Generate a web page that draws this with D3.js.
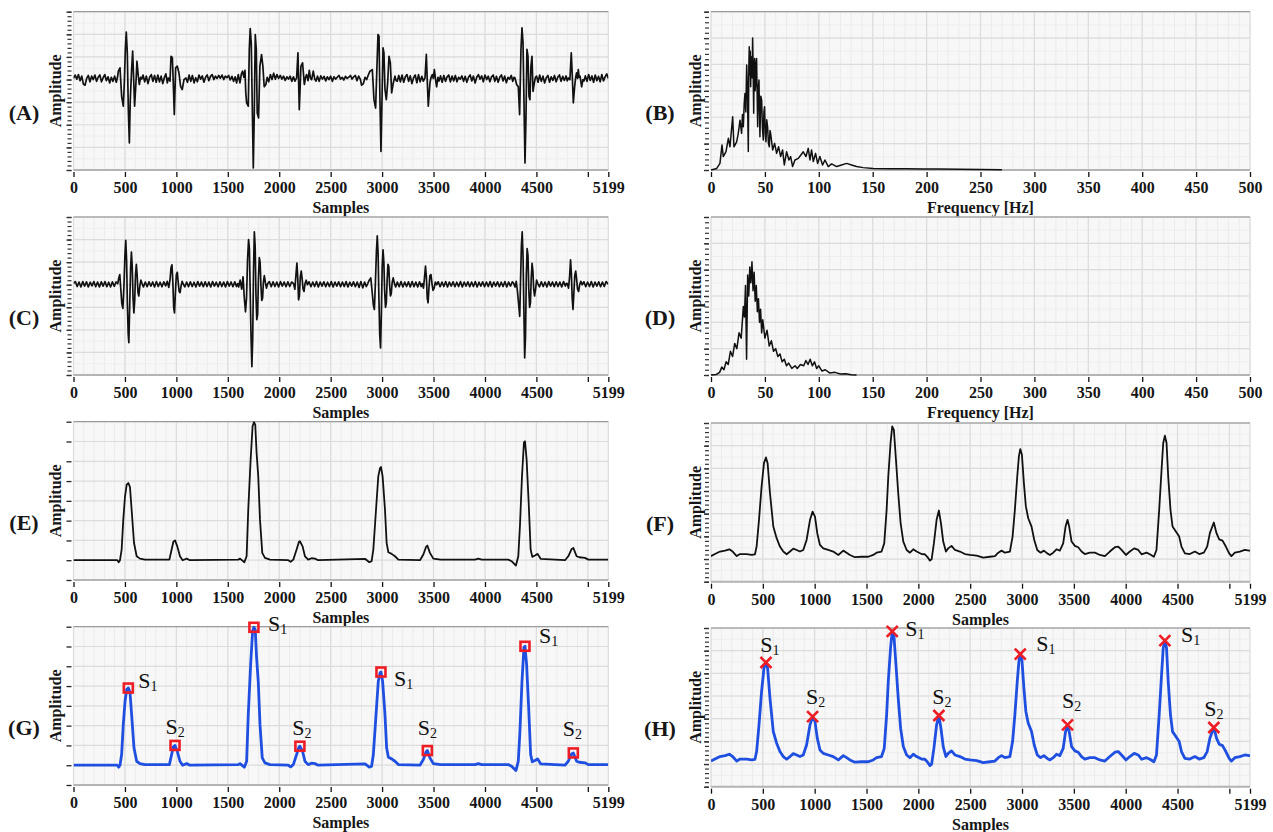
<!DOCTYPE html>
<html>
<head>
<meta charset="utf-8">
<script src="https://cdn.jsdelivr.net/npm/d3@7"></script>
<style>
  body { margin: 0; background: #ffffff; }
  svg { display: block; }
</style>
</head>
<body>
<svg id="fig" width="1273" height="832"></svg>
<script>
// ------------------------------------------------------------------
// Data
// ------------------------------------------------------------------

// Axis ticks
const sampleTicks = [0, 500, 1000, 1500, 2000, 2500, 3000, 3500, 4000, 4500, 5000, 5199];
const sampleTickLabels = ["0", "500", "1000", "1500", "2000", "2500", "3000", "3500", "4000", "4500", "", "5199"];
const freqTicks = [0, 50, 100, 150, 200, 250, 300, 350, 400, 450, 500];
const freqTickLabels = ["0", "50", "100", "150", "200", "250", "300", "350", "400", "450", "500"];

// (A) raw heart-sound recording: [sample, amplitude]
const pcgRaw = [
 [0,0.05],[16,0.2],[32,0.02],[48,0.22],[64,-0.05],[80,0.15],[96,-0.2],[112,-0.25],[128,0.05],[144,0.18],[160,-0.1],[176,0.15],[192,0.0],[208,0.2],[224,-0.08],[240,0.1],[256,0.2],[272,-0.1],[288,0.08],[304,0.22],[320,-0.05],[336,0.12],[352,-0.15],[368,0.1],[384,-0.08],[400,0.15],[416,-0.12],[428,0.1],
 [436,0.37],[452,0.52],[468,-0.74],[484,-1.18],[494,-0.15],[504,1.33],[513,2.1],[523,1.18],[533,-1.33],[543,-2.8],[552,-0.89],[565,0.44],[575,1.26],[585,0.0],[594,-1.18],[607,-0.15],[617,0.81],[630,0.15],[640,-0.22],[652,0.1],[664,0.02],
 [676,0.2],[692,-0.1],[708,0.15],[724,-0.18],[740,0.1],[756,0.22],[772,-0.08],[788,0.18],[804,-0.12],[820,0.2],[836,-0.1],[852,0.15],[868,-0.18],[884,0.1],[898,0.25],[912,-0.15],
 [922,0.07],[938,-0.07],[948,1.03],[955,1.0],[961,0.96],[970,-0.15],[980,-1.55],[993,0.52],[1009,0.59],[1025,0.3],[1041,-0.3],[1057,-0.44],[1074,0.0],[1093,0.07],
 [1108,-0.12],[1124,0.2],[1140,-0.08],[1156,0.18],[1172,-0.15],[1188,0.08],[1204,-0.1],[1220,0.2],[1236,0.02],[1252,0.16],[1268,-0.12],[1284,0.1],[1300,0.2],[1316,-0.05],[1332,0.14],[1348,0.22],[1364,0.0],[1380,0.15],[1396,0.05],[1412,0.18],[1428,0.06],[1444,0.2],[1460,0.0],[1476,0.15],[1492,0.08],[1508,0.18],[1524,-0.02],[1540,0.14],[1556,-0.08],[1572,0.12],[1586,-0.15],
 [1602,0.22],[1618,-0.15],[1632,0.25],[1644,0.37],[1656,0.1],[1667,0.41],[1675,-0.6],[1683,-1.03],[1699,-1.18],[1709,1.33],[1718,2.25],[1728,1.62],[1738,-1.18],[1748,-3.91],[1757,-1.62],[1767,1.99],[1777,1.33],[1786,-1.48],[1799,-1.7],[1812,0.59],[1828,1.1],[1841,0.59],[1854,-0.32],[1870,-0.22],[1883,0.1],
 [1898,-0.1],[1914,0.22],[1930,0.0],[1946,0.28],[1962,0.02],[1978,0.22],[1994,0.05],[2010,0.18],[2026,0.02],[2042,0.15],[2058,-0.04],[2074,0.12],[2090,0.02],[2106,0.15],[2122,-0.08],[2138,0.12],
 [2153,-0.07],[2169,0.07],[2182,1.18],[2195,-1.33],[2211,0.59],[2227,0.74],[2244,-0.22],[2256,0.1],[2266,0.22],[2280,-0.05],[2292,0.41],[2304,0.05],[2315,0.0],[2331,0.37],[2345,0.02],[2357,-0.07],
 [2372,0.15],[2388,-0.08],[2404,0.16],[2420,0.02],[2436,0.14],[2452,-0.06],[2468,0.12],[2484,0.0],[2500,0.15],[2516,-0.08],[2532,0.12],[2548,0.02],[2564,0.1],[2580,0.18],[2596,0.02],[2612,0.1],[2628,-0.02],[2644,0.14],[2660,0.05],[2676,0.1],[2692,0.18],[2708,0.02],[2724,0.12],[2740,0.18],[2756,-0.05],[2772,0.15],[2788,0.02],[2801,-0.25],[2818,-0.18],[2834,0.1],[2850,0.0],
 [2866,0.2],[2882,0.37],[2905,0.44],[2921,-0.89],[2937,-1.26],[2950,0.59],[2960,1.99],[2970,1.92],[2979,-0.89],[2989,-3.18],[2999,-0.89],[3009,1.4],[3018,1.18],[3028,-0.44],[3041,-0.89],[3054,-0.15],[3067,1.03],[3080,0.74],[3093,-0.59],[3109,-0.15],[3125,0.15],[3137,-0.05],[3148,-0.07],
 [3162,0.18],[3178,-0.1],[3194,0.2],[3210,-0.12],[3226,0.12],[3242,0.22],[3258,-0.08],[3274,0.16],[3290,-0.18],[3306,0.08],[3322,0.2],[3338,-0.14],[3354,0.22],[3370,-0.1],[3386,0.14],
 [3401,-0.07],[3417,0.07],[3430,1.11],[3440,-0.15],[3449,-1.18],[3465,-0.15],[3476,0.1],[3488,0.22],[3498,0.05],[3508,0.44],[3520,0.0],[3530,-0.32],[3543,0.1],[3553,-0.07],
 [3568,0.16],[3584,-0.12],[3600,0.18],[3616,-0.08],[3632,0.12],[3648,0.2],[3664,-0.1],[3680,0.15],[3696,-0.06],[3712,0.18],[3728,-0.1],[3744,0.1],[3760,0.02],[3776,0.16],[3792,-0.08],[3808,0.14],[3824,-0.12],[3840,0.1],[3856,0.2],[3872,-0.06],[3888,0.15],[3904,-0.15],[3920,0.1],[3936,0.22],[3952,0.02],[3968,0.16],[3984,-0.1],[4000,0.2],[4016,0.0],[4032,0.15],[4048,-0.1],[4064,0.12],[4080,0.2],[4096,-0.08],[4112,0.14],[4128,-0.12],[4144,0.1],[4160,0.2],[4176,-0.06],[4192,0.15],[4208,-0.14],[4224,0.1],[4240,0.02],[4256,0.18],[4270,-0.08],[4282,0.1],
 [4292,0.07],[4308,-0.22],[4324,-0.32],[4337,-1.55],[4350,1.33],[4360,2.29],[4370,1.62],[4379,-0.89],[4389,-3.69],[4399,-1.62],[4408,1.33],[4418,1.03],[4428,-0.74],[4437,-0.89],[4447,0.59],[4457,1.03],[4467,-0.52],[4480,-0.15],[4491,0.1],[4502,0.15],
 [4516,-0.12],[4532,0.2],[4548,-0.08],[4564,0.15],[4580,-0.15],[4596,0.08],[4612,0.18],[4628,-0.12],[4644,0.12],[4660,-0.04],[4676,0.18],[4692,-0.1],[4708,0.1],[4724,0.2],[4740,-0.08],[4756,0.14],[4772,-0.04],[4788,0.16],[4800,-0.06],
 [4810,0.07],[4826,0.0],[4839,1.18],[4849,0.15],[4859,-1.03],[4872,-0.3],[4882,0.1],[4891,0.3],[4900,0.05],[4907,0.44],[4916,0.1],[4924,0.15],[4940,-0.32],[4952,0.0],[4962,-0.07],
 [4976,0.16],[4992,-0.08],[5008,0.22],[5024,-0.04],[5040,0.16],[5056,-0.12],[5072,0.2],[5088,-0.05],[5104,0.14],[5120,-0.1],[5136,0.22],[5152,-0.06],[5168,0.12],[5184,0.25],[5199,0.05]
];

// (C) band-pass filtered recording: [sample, amplitude]
const pcgFiltered = [
 [0,0.06],[18,0.14],[36,-0.08],[54,0.12],[72,-0.1],[90,0.14],[108,-0.06],[126,0.13],[144,-0.1],[162,0.11],[180,-0.05],[198,0.14],[216,-0.09],[234,0.12],[252,-0.1],[270,0.13],[288,-0.06],[306,0.14],[324,-0.09],[342,0.11],[360,-0.1],[378,0.13],[396,-0.07],[414,0.12],[430,0.05],
 [440,0.3],[450,0.45],[460,-0.2],[470,-0.85],[480,-1.05],[490,-0.1],[500,1.3],[508,1.97],[516,1.1],[524,-0.9],[532,-2.2],[538,-2.57],[546,-1.0],[555,0.7],[563,1.45],[571,0.8],[579,-0.6],[587,-1.25],[595,-0.7],[603,0.45],[611,0.9],[619,0.4],[627,-0.35],[635,-0.5],[645,-0.05],[655,0.2],[667,0.05],
 [680,-0.1],[698,0.12],[716,-0.09],[734,0.13],[752,-0.06],[770,0.12],[788,-0.1],[806,0.14],[824,-0.08],[842,0.11],[860,-0.09],[878,0.13],[896,-0.05],[912,0.15],[926,-0.12],
 [938,0.2],[948,0.75],[957,0.88],[966,0.1],[974,-1.0],[982,-1.25],[991,-0.3],[1000,0.45],[1009,0.55],[1018,0.1],[1027,-0.3],[1036,-0.35],[1046,-0.05],[1056,0.15],[1068,0.02],
 [1082,-0.1],[1100,0.12],[1118,-0.09],[1136,0.13],[1154,-0.08],[1172,0.11],[1190,-0.1],[1208,0.14],[1226,-0.06],[1244,0.12],[1262,-0.09],[1280,0.13],[1298,-0.08],[1316,0.12],[1334,-0.1],[1352,0.14],[1370,-0.06],[1388,0.11],[1406,-0.09],[1424,0.13],[1442,-0.08],[1460,0.12],[1478,-0.1],[1496,0.14],[1514,-0.06],[1532,0.12],[1550,-0.09],[1568,0.13],[1584,-0.08],
 [1596,0.05],[1605,-0.1],[1620,0.2],[1635,-0.2],[1648,0.35],[1660,-0.55],[1672,-1.2],[1682,-0.6],[1692,1.1],[1702,2.0],[1710,1.6],[1718,-0.4],[1726,-2.3],[1734,-3.63],[1742,-2.4],[1750,0.6],[1758,2.34],[1766,1.7],[1774,-0.5],[1782,-1.55],[1790,-1.3],[1798,0.3],[1806,1.2],[1814,1.0],[1822,0.0],[1830,-0.7],[1838,-0.6],[1846,0.1],[1855,0.4],[1865,0.1],[1876,-0.15],[1888,0.05],
 [1904,0.14],[1922,-0.09],[1940,0.13],[1958,-0.08],[1976,0.12],[1994,-0.1],[2012,0.14],[2030,-0.06],[2048,0.12],[2066,-0.09],[2084,0.13],[2102,-0.08],[2120,0.12],
 [2140,0.05],[2152,-0.2],[2162,0.4],[2172,0.96],[2180,0.3],[2188,-0.67],[2196,-0.5],[2205,0.35],[2214,0.6],[2223,0.25],[2232,-0.2],[2241,-0.3],[2251,0.05],[2262,0.2],[2274,0.0],
 [2290,0.13],[2308,-0.09],[2326,0.12],[2344,-0.08],[2362,0.14],[2380,-0.1],[2398,0.12],[2416,-0.06],[2434,0.13],[2452,-0.09],[2470,0.11],[2488,-0.08],[2506,0.14],[2524,-0.1],[2542,0.12],[2560,-0.06],[2578,0.13],[2596,-0.09],[2614,0.12],[2632,-0.08],[2650,0.14],[2668,-0.1],[2686,0.11],[2704,-0.06],[2722,0.13],[2740,-0.09],[2758,0.12],[2776,-0.12],[2794,0.14],[2812,-0.14],[2830,0.12],[2846,-0.08],
 [2860,0.05],[2875,0.2],[2890,0.3],[2903,-0.3],[2915,-0.9],[2925,-1.1],[2935,0.1],[2945,1.5],[2953,2.16],[2961,1.4],[2969,-0.6],[2977,-2.2],[2985,-2.8],[2993,-1.2],[3001,0.8],[3009,1.55],[3017,1.0],[3025,-0.3],[3033,-1.0],[3041,-0.8],[3049,0.2],[3057,0.9],[3065,0.8],[3073,0.0],[3081,-0.5],[3089,-0.4],[3098,0.1],[3108,0.3],[3120,0.05],[3132,-0.1],
 [3148,0.12],[3166,-0.09],[3184,0.14],[3202,-0.1],[3220,0.12],[3238,-0.08],[3256,0.13],[3274,-0.1],[3292,0.14],[3310,-0.09],[3328,0.12],[3346,-0.1],[3364,0.13],[3380,-0.08],
 [3390,0.05],[3402,-0.15],[3412,0.3],[3422,0.83],[3431,0.3],[3439,-0.6],[3447,-0.8],[3456,-0.1],[3465,0.4],[3475,0.45],[3485,0.05],[3495,-0.25],[3506,-0.15],[3518,0.12],[3530,0.0],
 [3546,0.13],[3564,-0.09],[3582,0.12],[3600,-0.08],[3618,0.14],[3636,-0.1],[3654,0.12],[3672,-0.06],[3690,0.13],[3708,-0.09],[3726,0.11],[3744,-0.08],[3762,0.14],[3780,-0.1],[3798,0.12],[3816,-0.06],[3834,0.13],[3852,-0.09],[3870,0.12],[3888,-0.08],[3906,0.14],[3924,-0.1],[3942,0.11],[3960,-0.06],[3978,0.13],[3996,-0.09],[4014,0.12],[4032,-0.08],[4050,0.14],[4068,-0.1],[4086,0.12],[4104,-0.06],[4122,0.13],[4140,-0.09],[4158,0.11],[4176,-0.08],[4194,0.14],[4212,-0.1],[4230,0.12],[4248,-0.06],[4266,0.13],
 [4280,0.05],[4292,-0.1],[4304,0.15],[4316,-0.3],[4328,-0.9],[4338,-1.4],[4346,0.2],[4354,1.7],[4362,2.34],[4370,1.3],[4378,-1.0],[4386,-3.24],[4394,-2.3],[4402,0.4],[4410,1.6],[4418,1.3],[4426,-0.2],[4434,-1.0],[4442,-0.8],[4450,0.3],[4458,0.95],[4466,0.6],[4474,-0.2],[4482,-0.5],[4492,-0.2],[4502,0.2],[4514,0.05],
 [4530,-0.09],[4548,0.13],[4566,-0.08],[4584,0.12],[4602,-0.1],[4620,0.14],[4638,-0.06],[4656,0.12],[4674,-0.09],[4692,0.13],[4710,-0.08],[4728,0.12],[4746,-0.1],[4764,0.14],[4782,-0.06],[4792,0.06],
 [4800,0.05],[4812,-0.15],[4822,0.3],[4832,1.1],[4840,0.5],[4848,-0.6],[4856,-1.1],[4864,-0.4],[4873,0.4],[4882,0.6],[4891,0.25],[4900,-0.2],[4910,-0.3],[4921,0.0],[4932,0.15],[4945,0.0],
 [4962,0.13],[4980,-0.09],[4998,0.12],[5016,-0.08],[5034,0.14],[5052,-0.1],[5070,0.12],[5088,-0.06],[5106,0.13],[5124,-0.09],[5142,0.12],[5160,-0.08],[5178,0.14],[5199,0.02]
];

// (B) spectrum of the raw recording: [frequency Hz, magnitude]
const spectrumRaw = [
 [0,0],[5.3,0.06],[8.3,0.25],[10.2,0.95],[11.4,0.51],[13.9,0.7],[16.1,1.2],[17.6,0.88],[20.1,2.02],[21.3,0.88],[23.8,1.07],[25.3,1.39],[26.9,1.89],[28.4,1.39],[29.2,2.1],[30,1.64],[30.8,2.5],[31.5,2.9],[32.3,2.2],[33.1,3.98],[33.8,3.1],[34.6,0.7],[35.1,3.9],[35.5,4.67],[36.0,3.6],[36.4,4.5],[36.8,3.16],[37.2,4.1],[37.7,4.29],[38.1,3.5],[38.6,5.0],[39.1,3.9],[39.6,2.15],[40.0,3.8],[40.5,4.23],[40.9,3.0],[41.4,3.28],[41.8,4.0],[42.3,4.23],[42.8,2.9],[43.3,1.64],[43.9,3.1],[44.5,3.41],[45.0,2.2],[45.4,1.26],[46.2,2.8],[47,2.65],[47.7,1.6],[48.5,1.14],[49.1,2.2],[49.7,2.4],[50.4,1.3],[51,1.07],[51.7,1.9],[52.5,1.64],[53.3,1.0],[54.1,0.88],[54.7,1.5],[55.3,1.39],[57.2,0.76],[59,1.01],[60.9,0.63],[62.7,0.88],[64.6,0.51],[66.4,0.76],[68,0.19],[70.1,0.69],[72.3,0.38],[73.9,0.51],[75.7,0.13],[77.9,0.38],[81,0.44],[83.4,0.57],[85.6,0.69],[88.1,0.51],[90.2,0.82],[91.8,0.38],[93.3,0.76],[94.9,0.32],[97,0.63],[98.9,0.25],[101,0.51],[103.5,0.19],[105.7,0.38],[108.8,0.13],[111.9,0.23],[116.5,0.13],[121.1,0.19],[125.8,0.25],[130.4,0.19],[135,0.13],[141.2,0.09],[150.5,0.06],[165.9,0.05],[181.4,0.05],[196.8,0.04],[212.3,0.04],[230,0.03],[250,0.02],[270,0.01]
];

// (D) spectrum of the filtered recording: [frequency Hz, magnitude]
const spectrumFiltered = [
 [0,0],[5,0.02],[8,0.1],[10,0.3],[12,0.2],[14,0.5],[16,0.4],[18,0.9],[20,0.7],[22,1.2],[24,1.0],[26,1.6],[28,1.4],[30,2.6],[31,2.2],[32,3.4],[33,0.6],[34,3.8],[35,3.0],[36,4.1],[37,3.5],[38,4.3],[39,3.2],[40,3.9],[41,2.8],[42,3.4],[43,2.4],[44,2.9],[45,2.0],[46,2.5],[47,1.6],[48,2.1],[50,1.4],[52,1.7],[54,1.1],[56,1.3],[58,0.9],[60,1.0],[62,0.7],[64,0.8],[66,0.5],[68,0.6],[70,0.35],[72,0.45],[75,0.25],[78,0.35],[80,0.25],[83,0.4],[86,0.35],[88,0.55],[90,0.4],[92,0.6],[94,0.35],[96,0.5],[98,0.25],[100,0.35],[103,0.15],[106,0.2],[110,0.08],[115,0.1],[120,0.04],[125,0.05],[130,0.01],[135,0]
];

// (E)/(G) energy envelope: [sample, amplitude]
const envelopeEnergy = [
 [0,0],[426,0],[439,-0.1],[452,0],[468,0.54],[484,2.05],[501,3.23],[517,3.82],[533,3.9],[549,3.7],[565,2.56],[588,0.88],[614,0.2],[646,0.08],[695,0.03],
 [932,0.03],[954,0.54],[971,0.93],[987,1.0],[1009,0.7],[1035,0.2],[1061,0],[1100,0.08],[1132,0],
 [1602,0.03],[1619,0.08],[1661,-0.1],[1683,0.2],[1699,2.56],[1722,5.08],[1741,6.77],[1754,6.97],[1767,6.85],[1780,5.42],[1796,4.24],[1813,2.05],[1835,0.37],[1861,0.12],[1910,0.03],
 [2088,0],[2111,-0.08],[2137,0.03],[2169,0.54],[2192,0.93],[2201,0.96],[2227,0.7],[2250,0.2],[2282,0.03],[2314,0.1],[2347,0.08],[2379,0],
 [2834,0.07],[2876,-0.1],[2898,-0.05],[2915,0.54],[2941,2.56],[2963,4.24],[2980,4.66],[2989,4.71],[3005,4.24],[3028,2.56],[3044,0.88],[3061,0.4],[3093,0.32],[3125,0.2],[3158,0.03],
 [3368,0],[3401,0.29],[3427,0.67],[3440,0.74],[3465,0.37],[3498,0.08],[3569,0.03],
 [3903,0.03],[3935,0.08],[3968,0.03],
 [4227,0.03],[4259,-0.05],[4301,-0.27],[4324,0.2],[4340,1.72],[4360,4.24],[4379,5.96],[4389,6.01],[4405,5.08],[4425,2.9],[4444,0.54],[4460,0.17],[4486,0.24],[4512,0.32],[4541,0.07],
 [4778,0],[4810,0.2],[4843,0.57],[4859,0.62],[4891,0.2],[4917,0.15],[4972,0.12],[5005,0.03],[5199,0.03]
];

// (F)/(H) smoothed envelope: [sample, amplitude]
const envelopeSmooth = [
 [0,1.13],[38,1.22],[87,1.33],[135,1.37],[177,1.43],[209,1.33],[248,1.13],[280,1.22],[344,1.22],[392,1.18],[424,1.21],[440,1.55],[463,2.73],[488,4.2],[511,5.23],[530,5.48],[546,5.23],[569,3.9],[601,2.43],[633,1.92],[665,1.55],[697,1.33],[730,1.21],[762,1.33],[794,1.46],[826,1.4],[858,1.33],[890,1.4],[922,1.84],[955,2.73],[980,3.09],[1003,2.87],[1025,2.14],[1051,1.62],[1083,1.47],[1131,1.4],[1179,1.33],[1228,1.18],[1276,1.37],[1308,1.28],[1340,1.18],[1388,1.08],[1453,1.1],[1517,1.1],[1565,1.18],[1597,1.28],[1645,1.33],[1671,1.69],[1694,3.17],[1710,4.64],[1732,6.12],[1748,6.85],[1764,6.7],[1784,5.38],[1806,3.9],[1829,2.58],[1855,1.77],[1887,1.4],[1919,1.28],[1951,1.43],[1983,1.33],[2031,1.22],[2063,1.21],[2086,1.1],[2112,0.93],[2128,0.99],[2150,1.69],[2176,2.73],[2198,3.14],[2218,2.58],[2240,1.77],[2266,1.33],[2288,1.47],[2320,1.58],[2353,1.4],
 [2401,1.33],[2449,1.22],[2497,1.18],[2562,1.15],[2626,1.06],[2690,1.1],[2739,1.13],[2771,1.28],[2803,1.37],[2835,1.28],[2883,1.33],[2909,1.99],[2931,3.17],[2954,4.64],[2970,5.53],[2983,5.85],[2999,5.6],[3018,4.35],[3037,3.32],[3060,2.8],[3092,2.43],[3118,1.84],[3147,1.4],[3179,1.28],[3211,1.37],[3243,1.25],[3269,1.18],[3301,1.28],[3333,1.43],[3365,1.37],[3397,1.69],[3420,2.43],[3439,2.73],[3455,2.43],[3478,1.77],[3510,1.58],[3542,1.52],[3574,1.33],[3606,1.22],[3655,1.28],[3703,1.28],[3751,1.18],[3799,1.13],[3847,1.33],[3896,1.52],[3928,1.55],[3960,1.4],[4002,1.18],[4040,1.33],[4082,1.47],[4121,1.4],[4153,1.21],[4201,1.28],[4233,1.21],[4272,1.1],[4297,1.4],[4323,3.17],[4346,4.94],[4362,6.12],[4378,6.44],[4394,6.12],[4410,4.64],[4432,3.17],[4452,2.43],[4484,2.21],[4516,1.99],[4538,1.55],[4571,1.25],[4619,1.22],[4667,1.33],[4709,1.22],[4754,1.28],[4786,1.55],[4812,2.14],[4850,2.61],[4876,2.14],[4902,1.87],[4934,1.81],[4966,1.55],[4998,1.25],[5020,1.13],[5053,1.28],[5101,1.33],[5149,1.4],[5191,1.37],[5199,1.37]
];

// Detected heart sounds on the energy envelope (G)
const peaksEnergySamples = [533, 987, 1754, 2201, 2989, 3440, 4389, 4859];
const peaksEnergyValues  = [3.9, 1.0, 6.97, 0.96, 4.71, 0.74, 6.01, 0.62];
const peaksEnergyKinds   = ["1", "2", "1", "2", "1", "2", "1", "2"];

// Detected heart sounds on the smoothed envelope (H)
const peaksSmoothSamples = [530, 980, 1748, 2198, 2983, 3439, 4378, 4850];
const peaksSmoothValues  = [5.48, 3.09, 6.85, 3.14, 5.85, 2.73, 6.44, 2.61];
const peaksSmoothKinds   = ["1", "2", "1", "2", "1", "2", "1", "2"];

// ------------------------------------------------------------------
// Layout
// ------------------------------------------------------------------
const SERIF = '"Liberation Serif", "Times New Roman", Times, serif';
const TEXT = "#161616";
const BLUE = "#1f4fe0";
const RED = "#ee1c25";

const LEFT = { x0: 73.5, x1: 608.3, letterX: 24, titleX: 55.5 };
const RIGHT = { x0: 711, x1: 1250, letterX: 660, titleX: 695 };

// placement of each S-label relative to its marker: [dx, dy, anchor]
const gLabelPlacement = [[10, 0, "start"], [0, -11, "middle"], [14, 4, "start"], [2, -11, "middle"],
                         [13, 14, "start"], [0, -16, "middle"], [14, -3, "start"], [-1, -17, "middle"]];
const hLabelPlacement = [[4, -10, "middle"], [3, -13, "middle"], [13, 5, "start"], [3, -12, "middle"],
                         [16, -3, "start"], [4, -17, "middle"], [16, 1, "start"], [0, -12, "middle"]];

const svg = d3.select("#fig");
svg.append("rect").attr("width", 1273).attr("height", 832).attr("fill", "#ffffff");

let clipCounter = 0;

function drawPanel(p) {
  const g = svg.append("g");
  const col = p.col;
  const x = d3.scaleLinear().domain(p.xDomain).range([col.x0, col.x1]);
  const y = d3.scaleLinear().domain(p.yDomain).range([p.bottom, p.top]);
  const w = col.x1 - col.x0;
  const h = p.bottom - p.top;

  // plot background
  g.append("rect").attr("x", col.x0).attr("y", p.top).attr("width", w).attr("height", h)
    .attr("fill", "#f7f7f7");

  // minor grid
  const xMinor = d3.range(p.xDomain[0], p.xDomain[1] + 1e-6, p.xMinorStep);
  g.append("g").selectAll("line").data(xMinor).join("line")
    .attr("x1", d => x(d)).attr("x2", d => x(d)).attr("y1", p.top).attr("y2", p.bottom)
    .attr("stroke", "#ebebeb").attr("stroke-width", 1);
  if (p.yMinorStep) {
    const yMinor = d3.range(p.yDomain[0], p.yDomain[1] + 1e-6, p.yMinorStep);
    g.append("g").selectAll("line").data(yMinor).join("line")
      .attr("x1", col.x0).attr("x2", col.x1).attr("y1", d => y(d)).attr("y2", d => y(d))
      .attr("stroke", "#eeeeee").attr("stroke-width", 1);
  }

  // major grid
  const yMajor = d3.range(p.yDomain[0], p.yDomain[1] + 1e-6, p.yMajorStep);
  g.append("g").selectAll("line").data(p.xTicks).join("line")
    .attr("x1", d => x(d)).attr("x2", d => x(d)).attr("y1", p.top).attr("y2", p.bottom)
    .attr("stroke", "#dcdcdc").attr("stroke-width", 1.2);
  g.append("g").selectAll("line").data(yMajor).join("line")
    .attr("x1", col.x0).attr("x2", col.x1).attr("y1", d => y(d)).attr("y2", d => y(d))
    .attr("stroke", "#dcdcdc").attr("stroke-width", 1.2);

  // frame: darker top edge, thick grey bottom edge
  g.append("line").attr("x1", col.x0).attr("x2", col.x1).attr("y1", p.top).attr("y2", p.top)
    .attr("stroke", "#8c8c8c").attr("stroke-width", 1);
  g.append("line").attr("x1", col.x0).attr("x2", col.x1).attr("y1", p.bottom).attr("y2", p.bottom)
    .attr("stroke", "#b4b4b4").attr("stroke-width", 2);

  // x axis
  const xAxis = d3.axisBottom(x).tickValues(p.xTicks)
    .tickFormat((d, i) => p.xTickLabels[i]).tickSize(5).tickPadding(5);
  const gx = g.append("g").attr("transform", `translate(0,${p.bottom + 2})`).call(xAxis);
  gx.select(".domain").remove();
  gx.selectAll(".tick line").attr("stroke", "#111").attr("stroke-width", 1.3);
  gx.selectAll(".tick text").attr("font-family", SERIF).attr("font-weight", "bold")
    .attr("font-size", 16).attr("fill", TEXT);

  // y axis: major and minor ticks, no labels
  const yAxis = d3.axisLeft(y).tickValues(yMajor).tickFormat("").tickSize(5);
  const gy = g.append("g").attr("transform", `translate(${col.x0 - 2},0)`).call(yAxis);
  gy.select(".domain").remove();
  gy.selectAll(".tick line").attr("stroke", "#222").attr("stroke-width", 1.3);
  if (p.yTickMinorStep) {
    const yMinorTicks = d3.range(p.yDomain[0], p.yDomain[1] + 1e-6, p.yTickMinorStep);
    const gy2 = g.append("g").attr("transform", `translate(${col.x0 - 2},0)`)
      .call(d3.axisLeft(y).tickValues(yMinorTicks).tickFormat("").tickSize(4));
    gy2.select(".domain").remove();
    gy2.selectAll(".tick line").attr("stroke", "#333").attr("stroke-width", 1.2);
  }

  // series
  const clipId = "clip" + (clipCounter++);
  g.append("clipPath").attr("id", clipId).append("rect")
    .attr("x", col.x0).attr("y", p.top - 3).attr("width", w).attr("height", h + 6);
  const line = d3.line().x(d => x(d[0])).y(d => y(d[1]));
  g.append("path").datum(p.series).attr("d", line).attr("clip-path", `url(#${clipId})`)
    .attr("fill", "none").attr("stroke", p.color).attr("stroke-width", p.lineWidth)
    .attr("stroke-linejoin", "round");

  // peak markers and S-labels
  if (p.peaks) {
    const pk = p.peaks;
    pk.samples.forEach((s, i) => {
      const mx = x(s), my = y(pk.values[i]);
      if (pk.shape === "square") {
        g.append("rect").attr("x", mx - 4.5).attr("y", my - 4.5).attr("width", 9).attr("height", 9)
          .attr("fill", "none").attr("stroke", RED).attr("stroke-width", 2.6);
      } else {
        g.append("path").attr("d", `M${mx - 5.5},${my - 5.5}L${mx + 5.5},${my + 5.5}M${mx - 5.5},${my + 5.5}L${mx + 5.5},${my - 5.5}`)
          .attr("stroke", RED).attr("stroke-width", 2.6).attr("fill", "none");
      }
      const pl = pk.placement[i];
      const t = g.append("text").attr("x", mx + pl[0]).attr("y", my + pl[1])
        .attr("font-family", SERIF).attr("font-size", 22).attr("fill", "#111")
        .attr("text-anchor", pl[2]);
      t.append("tspan").text("S");
      t.append("tspan").attr("font-size", 14).attr("dy", 3).text(pk.kinds[i]);
    });
  }

  // axis title, amplitude label and panel letter
  g.append("text").attr("x", (col.x0 + col.x1) / 2).attr("y", p.bottom + 43)
    .attr("text-anchor", "middle").attr("font-family", SERIF).attr("font-weight", "bold")
    .attr("font-size", 16).attr("fill", TEXT).text(p.xTitle);
  g.append("text")
    .attr("transform", `translate(${col.titleX + 5.5},${(p.top + p.bottom) / 2}) rotate(-90)`)
    .attr("text-anchor", "middle").attr("font-family", SERIF).attr("font-weight", "bold")
    .attr("font-size", 16).attr("fill", TEXT).text("Amplitude");
  g.append("text").attr("x", col.letterX).attr("y", p.top + 108)
    .attr("text-anchor", "middle").attr("font-family", SERIF).attr("font-weight", "bold")
    .attr("font-size", 22).attr("fill", TEXT).text(p.letter);
}

const samplePanel = { xDomain: [0, 5199], xTicks: sampleTicks, xTickLabels: sampleTickLabels, xMinorStep: 100, xTitle: "Samples" };
const freqPanel = { xDomain: [0, 500], xTicks: freqTicks, xTickLabels: freqTickLabels, xMinorStep: 10, xTitle: "Frequency [Hz]" };

const panels = [
  Object.assign({}, samplePanel, { col: LEFT, top: 11.7, bottom: 170, letter: "(A)", yDomain: [-4, 3], yMajorStep: 1, yMinorStep: 0.5, yTickMinorStep: 0.2, series: pcgRaw, color: "#111", lineWidth: 1.7 }),
  Object.assign({}, freqPanel, { col: RIGHT, top: 11.7, bottom: 170, letter: "(B)", yDomain: [0, 6], yMajorStep: 1, yMinorStep: 0.5, yTickMinorStep: 0.2, series: spectrumRaw, color: "#111", lineWidth: 1.5 }),
  Object.assign({}, samplePanel, { col: LEFT, top: 217, bottom: 375, letter: "(C)", yDomain: [-4, 3], yMajorStep: 1, yMinorStep: 0.5, yTickMinorStep: 0.2, series: pcgFiltered, color: "#111", lineWidth: 1.7 }),
  Object.assign({}, freqPanel, { col: RIGHT, top: 217, bottom: 375, letter: "(D)", yDomain: [0, 6], yMajorStep: 1, yMinorStep: 0.5, yTickMinorStep: 0.2, series: spectrumFiltered, color: "#111", lineWidth: 1.5 }),
  Object.assign({}, samplePanel, { col: LEFT, top: 421.7, bottom: 580, letter: "(E)", yDomain: [-1, 7], yMajorStep: 1, series: envelopeEnergy, color: "#111", lineWidth: 1.8 }),
  Object.assign({}, samplePanel, { col: RIGHT, top: 423, bottom: 581.7, letter: "(F)", yDomain: [0, 7], yMajorStep: 1, yMinorStep: 0.5, yTickMinorStep: 0.2, series: envelopeSmooth, color: "#111", lineWidth: 1.8 }),
  Object.assign({}, samplePanel, { col: LEFT, top: 626.7, bottom: 785, letter: "(G)", yDomain: [-1, 7], yMajorStep: 1, series: envelopeEnergy, color: BLUE, lineWidth: 2.8,
    peaks: { samples: peaksEnergySamples, values: peaksEnergyValues, kinds: peaksEnergyKinds, shape: "square", placement: gLabelPlacement } }),
  Object.assign({}, samplePanel, { col: RIGHT, top: 628, bottom: 786.7, letter: "(H)", yDomain: [0, 7], yMajorStep: 1, yMinorStep: 0.5, yTickMinorStep: 0.2, series: envelopeSmooth, color: BLUE, lineWidth: 2.8,
    peaks: { samples: peaksSmoothSamples, values: peaksSmoothValues, kinds: peaksSmoothKinds, shape: "cross", placement: hLabelPlacement } })
];

panels.forEach(drawPanel);
</script>
</body>
</html>
